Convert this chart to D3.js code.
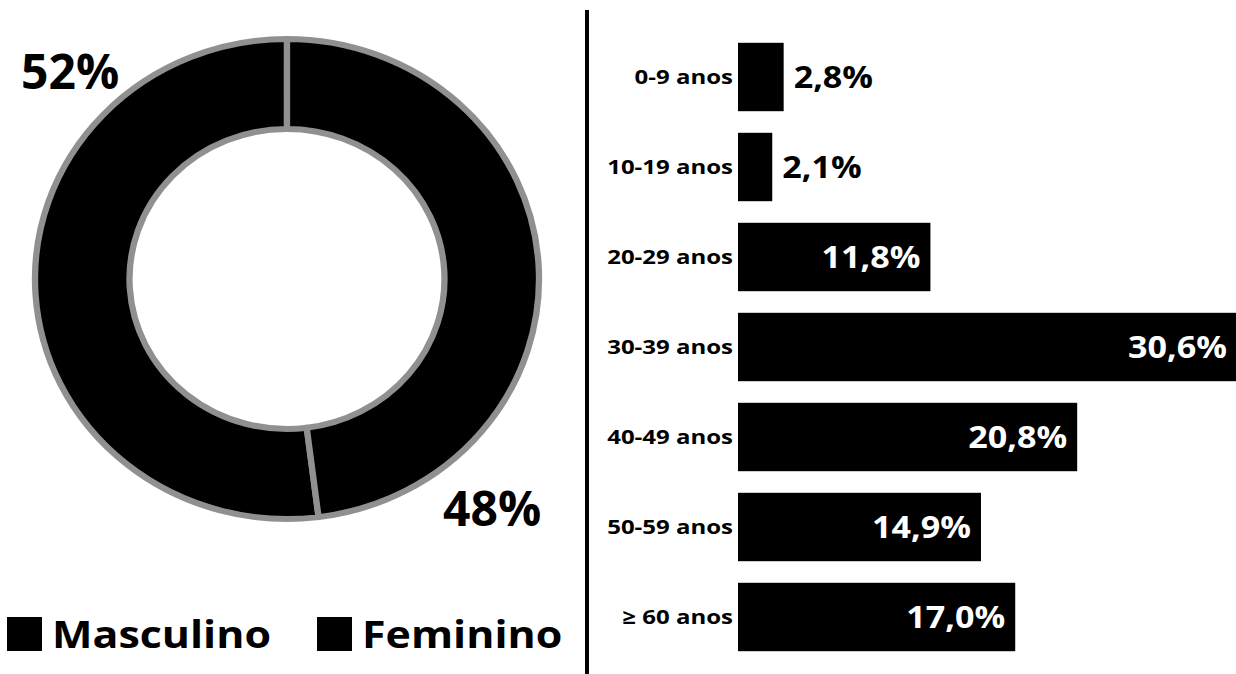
<!DOCTYPE html>
<html>
<head>
<meta charset="utf-8">
<script src="https://cdn.jsdelivr.net/npm/d3@7"></script>
<style>
body { margin: 0; background: #fff; }
svg { display: block; font-family: "Open Sans", sans-serif; font-weight: bold; }
</style>
</head>
<body>
<div id="body"></div>
<script>
// data
let sexLabels = ['Masculino', 'Feminino']
let sexValues = [52, 48]
let ageGroups = ['0-9 anos', '10-19 anos', '20-29 anos', '30-39 anos', '40-49 anos', '50-59 anos', '≥ 60 anos']
let agePct = [2.8, 2.1, 11.8, 30.6, 20.8, 14.9, 17.0]

let size = { width: 1236, height: 674 }

let svg = d3.select('#body')
  .append('svg')
  .attr('width', size.width)
  .attr('height', size.height)

let fmt = v => v.toFixed(1).replace('.', ',') + '%'

// stretched text helper (original fonts are wider than Open Sans)
let stretchText = (parent, x, y, str, opts) => {
  let g = parent.append('g').attr('transform', `translate(${x},${y}) scale(${opts.sx || 1},1)`)
  return g.append('text')
    .attr('text-anchor', opts.anchor || 'start')
    .attr('font-size', opts.size)
    .attr('fill', opts.fill || '#000')
    .text(str)
}

//donut (slightly wider than tall in the original)
let donut = { cx: 287, cy: 279, R: 240, r: 150, sx: 1.05 }
let total = d3.sum(sexValues)
let pie = d3.pie()
  .sort(null)
  .startAngle(-2 * Math.PI * sexValues[0] / total)
  .endAngle(2 * Math.PI * (1 - sexValues[0] / total))
let arc = d3.arc().innerRadius(donut.r).outerRadius(donut.R)
let gDonut = svg.append('g').attr('transform', `translate(${donut.cx},${donut.cy}) scale(${donut.sx},1)`)
gDonut.selectAll('path')
  .data(pie(sexValues))
  .join('path')
  .attr('d', arc)
  .attr('fill', '#000')
  .attr('stroke', '#909090')
  .attr('stroke-width', 6)
  .attr('stroke-linejoin', 'round')

// pct labels
stretchText(svg, 21, 89, sexValues[0] + '%', { size: 48 })
stretchText(svg, 443, 526, sexValues[1] + '%', { size: 48 })

// legend
let legX = [7, 317]
sexLabels.forEach((s, i) => {
  svg.append('rect')
    .attr('x', legX[i]).attr('y', 617)
    .attr('width', 35).attr('height', 34)
    .attr('fill', '#000')
  stretchText(svg, legX[i] + 45, 648, s, { size: 38, sx: 1.13 })
})

// divider
svg.append('line')
  .attr('x1', 587).attr('x2', 587)
  .attr('y1', 10).attr('y2', size.height)
  .attr('stroke', '#000')
  .attr('stroke-width', 4)

// bars
let xScale = d3.scaleLinear().domain([0, d3.max(agePct)]).range([738, 1237])
let yScale = d3.scaleBand().domain(ageGroups).range([32, 662]).paddingInner(0.24).paddingOuter(0.12)

svg.append('g')
  .selectAll('rect')
  .data(agePct)
  .join('rect')
  .attr('x', xScale(0))
  .attr('y', (d, i) => yScale(ageGroups[i]))
  .attr('width', d => xScale(d) - xScale(0))
  .attr('height', yScale.bandwidth())
  .attr('fill', '#000')

ageGroups.forEach((a, i) => {
  let cy = yScale(a) + yScale.bandwidth() / 2
  stretchText(svg, xScale(0) - 5, cy + 7, a, { size: 20, sx: 1.2, anchor: 'end' })
  let v = agePct[i]
  if (v < 5) {
    stretchText(svg, xScale(v) + 10, cy + 11, fmt(v), { size: 31, sx: 1.1 })
  } else {
    stretchText(svg, xScale(v) - 10, cy + 11, fmt(v), { size: 31, sx: 1.1, anchor: 'end', fill: '#fff' })
  }
})
</script>
</body>
</html>
